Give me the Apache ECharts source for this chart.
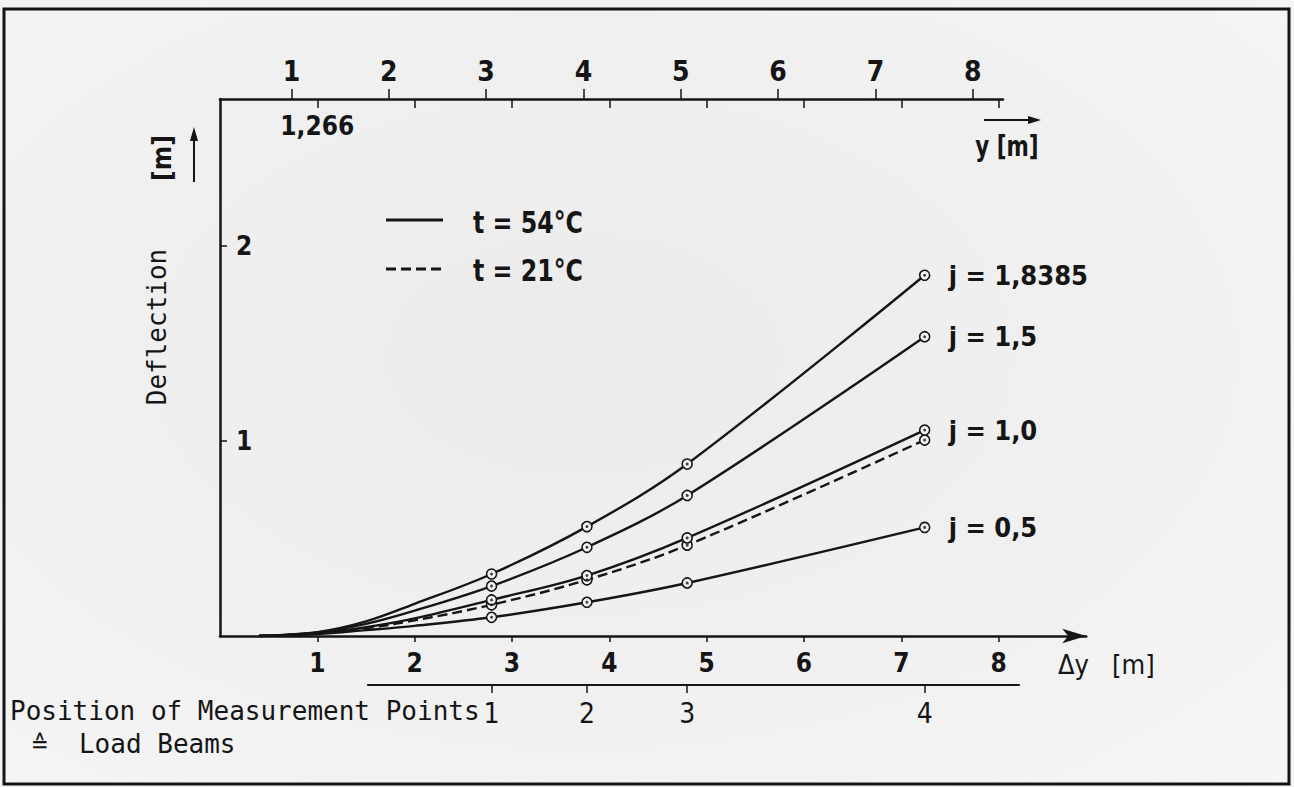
<!DOCTYPE html>
<html><head><meta charset="utf-8">
<script src="https://cdn.jsdelivr.net/npm/echarts@6/dist/echarts.min.js"></script>
<style>html,body{margin:0;padding:0;background:#f1f1f1}#c{width:1294px;height:787px}</style>
</head><body><div id="c"></div>
<script>
// ---- data ----
const dyValues   = [0.4, 1.0, 1.5, 2.0, 2.79, 3.77, 4.80, 7.24];   // Δy [m]
const measured   = [false, false, false, false, true, true, true, true];
const j18385     = [0, 0.020, 0.075, 0.165, 0.318, 0.561, 0.882, 1.850];
const j15        = [0, 0.018, 0.062, 0.130, 0.256, 0.455, 0.721, 1.535];
const j10warm    = [0, 0.015, 0.045, 0.090, 0.185, 0.310, 0.503, 1.056];
const j10cold    = [0, 0.013, 0.040, 0.080, 0.160, 0.288, 0.466, 1.005];
const j05        = [0, 0.010, 0.030, 0.052, 0.096, 0.173, 0.272, 0.557];
const curveNames = ['j = 1,8385', 'j = 1,5', 'j = 1,0', 't = 21°C, j = 1,0', 'j = 0,5'];
const bottomTicks = [1, 2, 3, 4, 5, 6, 7, 8];
const topTicks    = [1, 2, 3, 4, 5, 6, 7, 8];
const topOffset   = 0.266;            // y = Δy + 0.266
const deflTicks   = [1, 2];
const beamPos     = [2.79, 3.77, 4.80, 7.24];
const beamLabels  = ['1', '2', '3', '4'];
const legendTexts = ['t = 54°C', 't = 21°C'];

// ---- layout ----
const PX = 97.33;            // px per metre on x
const L = 220, T = 99, H = 537;
const cond = "'DejaVu Sans Condensed','Liberation Sans Narrow',sans-serif";
const mono = "'DejaVu Sans Mono','Liberation Mono',monospace";
const ink = '#151515';

function pts(vals) {
  return dyValues.map((x, i) => measured[i]
    ? {value: [x, vals[i]], symbol: 'circle'}
    : {value: [x, vals[i]], symbol: 'none'});
}
function dots(vals) {
  return dyValues.map((x, i) => [x, vals[i]]).filter((d, i) => measured[i]);
}
const allCurves = [j18385, j15, j10warm, j10cold, j05];

const series = allCurves.map((vals, k) => ({
  type: 'line', name: curveNames[k], xAxisIndex: 0, yAxisIndex: 0,
  data: pts(vals), smooth: 0.35, showSymbol: true, symbolSize: 10,
  lineStyle: {color: ink, width: 2.4, type: k === 3 ? [10, 5] : 'solid'},
  itemStyle: {color: '#f4f4f4', borderColor: ink, borderWidth: 1.6},
  z: k === 3 ? 3 : 4,
  endLabel: k === 3 ? {show: false} : {
    show: true, formatter: curveNames[k], distance: 24,
    fontFamily: cond, fontWeight: 'bold', fontSize: 27, color: ink
  },
  emphasis: {disabled: true}, animation: false
}));
allCurves.forEach(vals => series.push({
  type: 'scatter', xAxisIndex: 0, yAxisIndex: 0, data: dots(vals),
  symbol: 'circle', symbolSize: 3, itemStyle: {color: ink}, z: 6, animation: false, silent: true
}));

const chart = echarts.init(document.getElementById('c'), null, {renderer: 'svg'});
chart.setOption({
  backgroundColor: {type: 'radial', x: 0.45, y: 0.45, r: 0.8,
    colorStops: [{offset: 0, color: '#ebebeb'}, {offset: 0.6, color: '#f1f1f1'}, {offset: 1, color: '#f6f6f6'}]},
  animation: false,
  grid: [
    {left: L, top: T, width: 8.9 * PX, height: H},
    {left: L, top: T, width: 783, height: H},
    {left: L, top: T, width: 783, height: H},
    {left: L + 1.52 * PX, top: 685, width: (8.21 - 1.52) * PX, height: 0}
  ],
  xAxis: [
    { // Δy axis
      gridIndex: 0, type: 'value', min: 0, max: 8.9, position: 'bottom',
      axisLine: {show: true, onZero: false, symbol: ['none', 'arrow'], symbolSize: [11, 24],
        lineStyle: {color: ink, width: 2.5}},
      axisTick: {show: true, customValues: bottomTicks, length: 6, lineStyle: {color: ink, width: 1.5}},
      axisLabel: {customValues: bottomTicks, margin: 14, fontFamily: cond, fontWeight: 'bold', fontSize: 26, color: ink},
      splitLine: {show: false}
    },
    { // top y axis
      gridIndex: 1, type: 'value', min: topOffset, max: topOffset + 783 / PX, position: 'top',
      axisLine: {show: true, onZero: false, lineStyle: {color: ink, width: 2.5}},
      axisTick: {show: true, customValues: topTicks, length: 10, lineStyle: {color: ink, width: 1.5}},
      axisLabel: {customValues: topTicks, margin: 14, fontFamily: cond, fontWeight: 'bold', fontSize: 28, color: ink},
      splitLine: {show: false}
    },
    { // downward ticks on the top axis at Δy positions
      gridIndex: 2, type: 'value', min: 0, max: 783 / PX, position: 'top',
      axisLine: {show: false, onZero: false},
      axisTick: {show: true, inside: true, customValues: bottomTicks, length: 9, lineStyle: {color: ink, width: 1.5}},
      axisLabel: {inside: true, customValues: [bottomTicks[0]], margin: 14,
        formatter: v => (v + topOffset).toFixed(3).replace('.', ','),
        fontFamily: cond, fontWeight: 'bold', fontSize: 26, color: ink},
      splitLine: {show: false}
    },
    { // load beam axis
      gridIndex: 3, type: 'value', min: 1.52, max: 8.21, position: 'bottom',
      axisLine: {show: true, onZero: false, lineStyle: {color: ink, width: 2}},
      axisTick: {show: true, customValues: beamPos, length: 8, lineStyle: {color: ink, width: 1.5}},
      axisLabel: {customValues: beamPos, margin: 14, formatter: v => beamLabels[beamPos.indexOf(v)],
        fontFamily: cond, fontSize: 28, color: ink},
      splitLine: {show: false}
    }
  ],
  yAxis: [
    {
      gridIndex: 0, type: 'value', min: 0, max: H / 195, position: 'left',
      axisLine: {show: true, onZero: false, lineStyle: {color: ink, width: 2.5}},
      axisTick: {show: true, inside: true, customValues: deflTicks, length: 7, lineStyle: {color: ink, width: 1.5}},
      axisLabel: {inside: true, customValues: deflTicks, margin: 16, fontFamily: cond, fontWeight: 'bold', fontSize: 26, color: ink},
      splitLine: {show: false}
    },
    {gridIndex: 1, type: 'value', show: false},
    {gridIndex: 2, type: 'value', show: false},
    {gridIndex: 3, type: 'value', show: false}
  ],
  series: series,
  graphic: [
    {type: 'rect', shape: {x: 4, y: 9, width: 1285, height: 775}, style: {fill: 'none', stroke: ink, lineWidth: 3}, silent: true},
    // legend
    {type: 'line', shape: {x1: 386, y1: 220, x2: 443, y2: 220}, style: {stroke: ink, lineWidth: 3}},
    {type: 'line', shape: {x1: 386, y1: 269, x2: 443, y2: 269}, style: {stroke: ink, lineWidth: 3, lineDash: [10, 5]}},
    {type: 'text', x: 473, y: 222, scaleX: 0.85, style: {text: legendTexts[0], fontFamily: cond, fontWeight: 'bold', fontSize: 31, fill: ink, verticalAlign: 'middle'}},
    {type: 'text', x: 473, y: 270, scaleX: 0.85, style: {text: legendTexts[1], fontFamily: cond, fontWeight: 'bold', fontSize: 31, fill: ink, verticalAlign: 'middle'}},
    // y [m] with arrow
    {type: 'line', shape: {x1: 984, y1: 120, x2: 1030, y2: 120}, style: {stroke: ink, lineWidth: 2}},
    {type: 'polygon', shape: {points: [[1041, 120], [1028, 116], [1028, 124]]}, style: {fill: ink}},
    {type: 'text', x: 1007, y: 146, scaleX: 0.85, style: {text: 'y [m]', fontFamily: cond, fontWeight: 'bold', fontSize: 28, fill: ink, align: 'center', verticalAlign: 'middle'}},
    // Δy [m]
    {type: 'text', x: 1058, y: 664, style: {text: 'Δy   [m]', fontFamily: cond, fontSize: 27, fill: ink, verticalAlign: 'middle'}},
    // Deflection [m] with arrow
    {type: 'text', x: 157, y: 327, rotation: Math.PI / 2, style: {text: 'Deflection', fontFamily: mono, fontSize: 26, fill: ink, align: 'center', verticalAlign: 'middle'}},
    {type: 'text', x: 162, y: 158, rotation: Math.PI / 2, style: {text: '[m]', fontFamily: cond, fontWeight: 'bold', fontSize: 26, fill: ink, align: 'center', verticalAlign: 'middle'}},
    {type: 'line', shape: {x1: 194, y1: 182, x2: 194, y2: 138}, style: {stroke: ink, lineWidth: 2}},
    {type: 'polygon', shape: {points: [[194, 127], [190, 141], [198, 141]]}, style: {fill: ink}},
    // load beam description
    {type: 'text', x: 10, y: 711, style: {text: 'Position of Measurement Points', fontFamily: mono, fontSize: 26, fill: ink, verticalAlign: 'middle'}},
    {type: 'text', x: 32, y: 744, style: {text: '≙  Load Beams', fontFamily: mono, fontSize: 26, fill: ink, verticalAlign: 'middle'}}
  ]
});
</script></body></html>
